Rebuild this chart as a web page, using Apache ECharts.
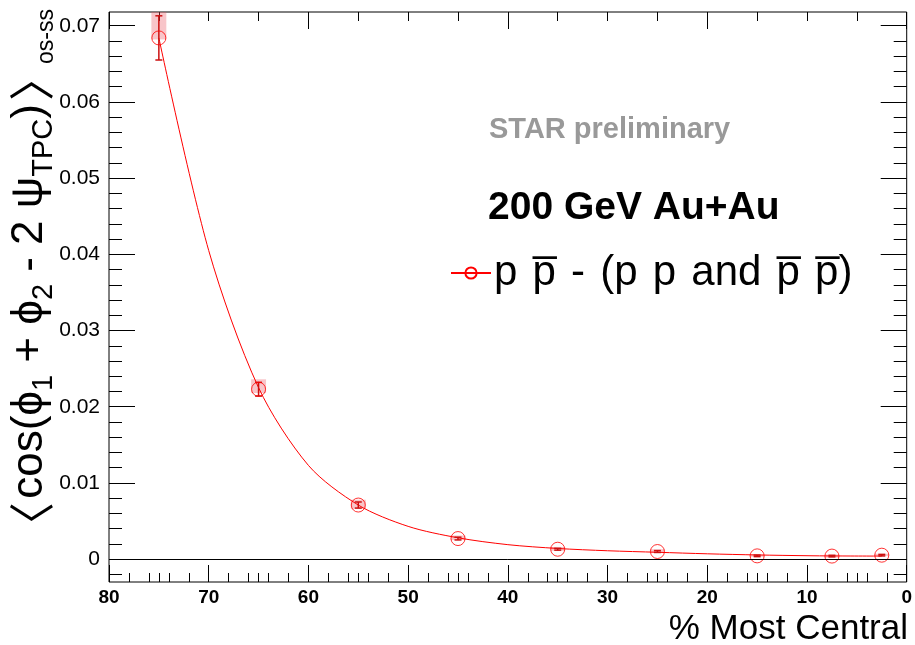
<!DOCTYPE html>
<html>
<head>
<meta charset="utf-8">
<script src="https://cdn.jsdelivr.net/npm/echarts@6/dist/echarts.min.js"></script>
<style>
html,body{margin:0;padding:0;background:#fff;}
#chart{width:915px;height:645px;}
</style>
</head>
<body>
<div id="chart"></div>
<script>
// ---- data ----
const centrality = [75, 65, 55, 45, 35, 25, 15, 7.5, 2.5];
const correlator = [0.0684, 0.0223, 0.0071, 0.0027, 0.0013, 0.0010, 0.00043, 0.00040, 0.00052];
const statErr    = [0.0029, 0.0009, 0.0004, 0.00018, 0.00012, 0.00012, 0.0001, 0.0001, 0.0001];
const sysLow     = [0.0682, 0.0218, 0.0066, 0.0025, 0.0011, 0.0008, 0.0003, 0.0002, 0.0004];
const sysHigh    = [0.0745, 0.0236, 0.0078, 0.0031, 0.0016, 0.0013, 0.0006, 0.0006, 0.0007];

// fitted curve, values
const fitX = [75, 70, 65, 60, 55, 50, 45, 40, 35, 30, 25, 20, 15, 10, 7.5, 2.5];
const fitY = [0.0684, 0.0405, 0.0225, 0.0123, 0.0071, 0.0043, 0.0028, 0.0019, 0.0014, 0.0011, 0.0009, 0.0007, 0.00055, 0.00045, 0.00042, 0.0004];

const xMajorTicks = [0, 10, 20, 30, 40, 50, 60, 70, 80];
const xMinorTicks = [2,4,5,6,8, 12,14,15,16,18, 22,24,25,26,28, 32,34,35,36,38, 42,44,45,46,48, 52,54,55,56,58, 62,64,65,66,68, 72,74,75,76,78];
const xTopMajor = [0, 20, 40, 60, 80];
const xTopMinor = [5, 10, 15, 25, 30, 35, 45, 50, 55, 65, 70, 75];
const yMajorTicks = [0, 0.01, 0.02, 0.03, 0.04, 0.05, 0.06, 0.07];
const yMinorTicks = [-0.002, 0.002, 0.004, 0.006, 0.008, 0.012, 0.014, 0.016, 0.018, 0.022, 0.024, 0.026, 0.028,
  0.032, 0.034, 0.036, 0.038, 0.042, 0.044, 0.046, 0.048, 0.052, 0.054, 0.056, 0.058, 0.062, 0.064, 0.066, 0.068];

const SP = ' \u200A';
const seriesName = 'p' + SP + 'p\u0305' + SP + '-' + SP + '(p' + SP + 'p' + SP + 'and' + SP + 'p\u0305' + SP + 'p\u0305)';
const FONT = '"Liberation Sans", Arial, Helvetica, sans-serif';

const X_MIN = 0, X_MAX = 80, Y_MIN = -0.003, Y_MAX = 0.0718;

const chart = echarts.init(document.getElementById('chart'), null, {renderer: 'canvas'});

function xAxisDef(pos, ticks, len, showLabel) {
  return {
    type: 'value', min: X_MIN, max: X_MAX, inverse: true, position: pos, offset: 0,
    axisLine: {show: false, onZero: false},
    splitLine: {show: false},
    axisTick: {show: true, inside: true, length: len, customValues: ticks, lineStyle: {color: '#000', width: 1}},
    axisLabel: showLabel ? {show: true, customValues: ticks, margin: 6, fontFamily: FONT, fontWeight: 'bold', fontSize: 19, color: '#000'} : {show: false}
  };
}
function yAxisDef(pos, ticks, len, showLabel) {
  return {
    type: 'value', min: Y_MIN, max: Y_MAX, position: pos, offset: 0,
    axisLine: {show: false, onZero: false},
    splitLine: {show: false},
    axisTick: {show: true, inside: true, length: len, customValues: ticks, lineStyle: {color: '#000', width: 1}},
    axisLabel: showLabel ? {show: true, customValues: ticks, margin: 9, fontFamily: FONT, fontSize: 21, color: '#000',
      formatter: v => (Math.abs(v) < 1e-9 ? '0' : v.toFixed(2))} : {show: false}
  };
}

const option = {
  animation: false,
  backgroundColor: '#fff',
  grid: {left: 109, right: 7, top: 12, bottom: 63, show: true, borderColor: '#000', borderWidth: 1, backgroundColor: 'transparent'},
  xAxis: [
    xAxisDef('bottom', xMajorTicks, 17, true),
    xAxisDef('bottom', xMinorTicks, 9, false),
    xAxisDef('top', xTopMajor, 17, false),
    xAxisDef('top', xTopMinor, 9, false)
  ],
  yAxis: [
    yAxisDef('left', yMajorTicks, 26, true),
    yAxisDef('left', yMinorTicks, 13, false),
    yAxisDef('right', yMajorTicks, 26, false),
    yAxisDef('right', yMinorTicks, 13, false)
  ],
  legend: {
    show: true, left: 450, top: 250, orient: 'vertical', padding: 0,
    itemWidth: 40, itemHeight: 14, itemGap: 0,
    data: [seriesName],
    textStyle: {fontFamily: FONT, fontSize: 42, color: '#000', lineHeight: 46, padding: [0, 0, 0, -2]},
    selectedMode: false
  },
  graphic: [
    {type: 'text', left: 489, top: 115, style: {text: 'STAR preliminary', fontFamily: FONT, fontWeight: 'bold', fontSize: 29, fill: '#999'}},
    {type: 'text', left: 488, top: 189, style: {text: '200 GeV Au+Au', fontFamily: FONT, fontWeight: 'bold', fontSize: 39, fill: '#000'}},
    {type: 'text', right: 7, top: 612, style: {text: '% Most Central', fontFamily: FONT, fontSize: 35, fill: '#000', align: 'right'}},
    {type: 'text', x: 33, y: 274, rotation: Math.PI / 2,
      style: {
        text: '{b|\u3008}{m| cos(\u03D5}{s|1}{m| + \u03D5}{s|2}{m| - 2 \u03C8}{s|TPC}{m|) }{b|\u3009}{t|os-ss}',
        align: 'center', verticalAlign: 'middle',
        rich: {
          b: {fontFamily: '"Noto Sans CJK SC", sans-serif', fontSize: 46, lineHeight: 50, width: 28, align: 'center', verticalAlign: 'top', fill: '#000'},
          m: {fontFamily: FONT, fontSize: 44, lineHeight: 50, verticalAlign: 'top', fill: '#000'},
          s: {fontFamily: FONT, fontSize: 29, lineHeight: 8, verticalAlign: 'bottom', fill: '#000'},
          t: {fontFamily: FONT, fontSize: 23, lineHeight: 12, verticalAlign: 'bottom', fill: '#000'}
        }
      }}
  ],
  series: [
    { // systematic boxes
      type: 'custom', name: 'sys', xAxisIndex: 0, yAxisIndex: 0, clip: true, z: 1,
      data: centrality.map((c, i) => [c, sysLow[i], sysHigh[i]]),
      renderItem: (params, api) => {
        const p1 = api.coord([api.value(0), api.value(2)]);
        const p2 = api.coord([api.value(0), api.value(1)]);
        const w = api.size([1.5, 0])[0];
        return {type: 'rect', shape: {x: p1[0] - w / 2, y: p1[1], width: w, height: p2[1] - p1[1]},
          style: {fill: 'rgba(235,90,100,0.35)'}};
      }
    },
    { // fitted curve
      type: 'line', name: 'fit', xAxisIndex: 0, yAxisIndex: 0, z: 2,
      data: fitX.map((x, i) => [x, fitY[i]]),
      smooth: 0.3, showSymbol: false, symbol: 'none',
      lineStyle: {color: '#ff0000', width: 1},
      markLine: {silent: true, symbol: 'none', label: {show: false},
        lineStyle: {color: '#000', width: 1, type: 'solid'}, data: [{yAxis: 0}]}
    },
    { // statistical error bars
      type: 'custom', name: 'stat', xAxisIndex: 0, yAxisIndex: 0, clip: true, z: 3,
      data: centrality.map((c, i) => [c, correlator[i] - statErr[i], correlator[i] + statErr[i]]),
      renderItem: (params, api) => {
        const lo = api.coord([api.value(0), api.value(1)]);
        const hi = api.coord([api.value(0), api.value(2)]);
        const cw = 3.5;
        const st = {stroke: '#cc1010', lineWidth: 1.5};
        return {type: 'group', children: [
          {type: 'line', shape: {x1: lo[0], y1: lo[1], x2: hi[0], y2: hi[1]}, style: st},
          {type: 'line', shape: {x1: lo[0] - cw, y1: lo[1], x2: lo[0] + cw, y2: lo[1]}, style: st},
          {type: 'line', shape: {x1: hi[0] - cw, y1: hi[1], x2: hi[0] + cw, y2: hi[1]}, style: st}
        ]};
      }
    },
    { // data points
      type: 'scatter', name: 'points', xAxisIndex: 0, yAxisIndex: 0, z: 4,
      data: centrality.map((c, i) => [c, correlator[i]]),
      symbol: 'circle', symbolSize: 14,
      itemStyle: {color: 'transparent', borderColor: '#ff0000', borderWidth: 1}
    },
    { // legend entry
      type: 'line', name: seriesName, data: [],
      symbol: 'circle', symbolSize: 12,
      lineStyle: {color: '#ff0000', width: 1},
      itemStyle: {color: 'transparent', borderColor: '#ff0000', borderWidth: 1}
    }
  ]
};
chart.setOption(option);
</script>
</body>
</html>
